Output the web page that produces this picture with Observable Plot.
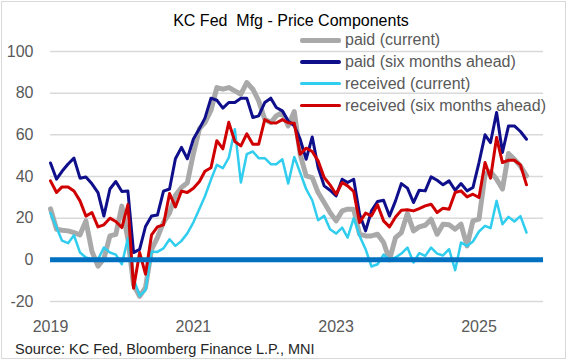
<!DOCTYPE html>
<html><head><meta charset="utf-8">
<script src="https://cdn.jsdelivr.net/npm/d3@7"></script>
<script src="https://cdn.jsdelivr.net/npm/@observablehq/plot@0.6"></script>
<style>
body{margin:0;background:#fff;}
#wrap{position:relative;width:571px;height:360px;font-family:"Liberation Sans",Arial,sans-serif;overflow:hidden;background:#fff;}
#chart{position:absolute;left:0;top:0;}
.border{position:absolute;left:1px;top:1px;width:565px;height:358px;border:1.5px solid #D9D9D9;box-sizing:border-box;pointer-events:none;}
#title{position:absolute;top:13px;left:291px;transform:translateX(-50%);font-size:16px;line-height:16px;color:#000;white-space:pre;}
#source{position:absolute;left:15px;top:342px;font-size:14.5px;line-height:14.5px;color:#262626;white-space:pre;}
.sw{position:absolute;left:300px;width:41px;border-radius:2px;}
.lt{position:absolute;left:345px;font-size:16px;line-height:16px;color:#595959;white-space:pre;}
</style></head><body>
<div id="wrap">
<div id="chart"></div>
<div class="border"></div>
<div id="title">KC Fed  Mfg - Price Components</div>
<div id="legend"></div>
<div id="source">Source: KC Fed, Bloomberg Finance L.P., MNI</div>
</div>
<script>
// Monthly data, Jan 2019 – Sep 2025
const seriesNames = ["paid (current)", "paid (six months ahead)", "received (current)", "received (six months ahead)"];
const paidCurrent = [24.5,14.7,14.2,13.9,13.1,12,18.7,4,-3,0.5,11.5,12.2,25.8,10,-12,-17.5,-13.3,5,10.7,18,22.5,31,34.7,37,51,63,65.9,71.8,82.7,81.9,82.7,81.1,79.5,85.1,81.9,76.3,67.5,65.9,69.1,70.7,64.3,71.2,50.7,40.3,39.5,32.3,27.5,22.7,18.7,23.5,24.3,24.3,12.3,11.5,11.5,12.3,8.3,0,10.7,13.1,22.2,13.9,15.8,16.6,19.5,12.3,17.1,16.8,14.7,17.1,6.7,18.7,19.5,41.1,42.4,38.7,34,51,48.3,45,40.3];
const paidSixMonths = [46.5,38.7,42.5,46,48.8,39.2,39.8,36.5,32.3,21,34,37.6,32.8,33,3.5,5,16,21,21.5,33,34,48.5,54,48.5,58,63,68,77.6,76.6,72.8,75.5,75.5,77.6,77.6,68.3,69.1,75.5,77.6,73.1,71.5,66.7,64.3,57.9,48.3,59,44.3,35.5,33.4,30.7,38.7,37.1,38.7,21.9,13.9,23.5,28,28.6,21,28.3,36.6,34.4,27.5,33.4,33.1,39.8,38.2,36,37.9,33.4,36.6,33.1,34.7,46.7,60,56.3,70.7,51.5,64.3,64.3,61.6,57.9];
const receivedCurrent = [22.5,15.5,9.2,8,11.8,3.5,1.1,0.2,0.2,5.9,3.5,2.5,-2.1,10.3,-9,-17.3,-14.5,4,3.8,5.5,9.9,6.7,9.1,12.7,18,24.5,30.5,38.5,45.6,44,49,62.7,37.1,50.7,52,48.8,48.8,45.9,45.9,48.3,36.6,49.4,41.9,33.9,28.6,19,21.1,14.7,12.6,15.5,10.7,20,11.5,5.1,-3.2,-2.1,2.5,0,1.1,3,5.9,-1.3,3.2,1.9,5.9,3,2.1,5.1,-5,8.3,6.7,8.8,13.6,16.3,15.2,28.3,17.1,20.6,18.4,21,13.1];
const receivedSixMonths = [37.9,32.3,35,35,33,28.3,21,22.7,15.8,16.8,20,18.4,15.5,26.5,-13.6,3.5,-6.9,12,15.8,16.8,31.8,25.4,33,32.3,34.4,37.6,42.5,44.2,57.2,53.3,66,56.8,54.7,60.5,55.5,55.5,67.3,65.8,65.7,67.3,65.8,65.6,50.7,53.6,52,47.5,39.5,36,31.5,37.1,35.5,32.8,17.9,22.4,21.1,26.4,18.7,15.8,20.6,23.8,24,23.5,24.6,25.9,26.7,22.7,24.8,24.3,32.3,33.1,30.2,31.5,29.9,46.7,39.2,58.7,46.7,47.8,47.8,45.6,36];
const xTickYears = [2019, 2021, 2023, 2025];
const yTicks = [-20, 0, 20, 40, 60, 80, 100];

const styles = [
  {color:"#A9A9A9", width:5},
  {color:"#0F0F8C", width:3},
  {color:"#30CDEE", width:2.5},
  {color:"#D00000", width:3}
];
const allValues = [paidCurrent, paidSixMonths, receivedCurrent, receivedSixMonths];
const rows = allValues.map((vals, s) => vals.map((v, i) => ({series: seriesNames[s], date: new Date(Date.UTC(2019, i, 1)), value: v})));

const chart = Plot.plot({
  width: 571, height: 360,
  marginLeft: 50, marginRight: 28, marginTop: 51, marginBottom: 59,
  style: {fontFamily: '"Liberation Sans", Arial, sans-serif', fontSize: "16px", color: "#595959", background: "transparent"},
  x: {type: "utc", domain: [new Date(Date.UTC(2019,0,1)), new Date(Date.UTC(2025,10,27))],
      ticks: xTickYears.map(y => new Date(Date.UTC(y,0,1))), tickFormat: d3.utcFormat("%Y"),
      tickSize: 0, tickPadding: 19, label: null},
  y: {domain: [-20, 100], ticks: yTicks, tickFormat: d => String(d), tickSize: 0, tickPadding: 17, label: null},
  marks: [
    Plot.ruleY(yTicks, {stroke: "#D9D9D9", strokeWidth: 1.5}),
    ...rows.map((r, s) => Plot.line(r, {x: "date", y: "value", stroke: styles[s].color, strokeWidth: styles[s].width, strokeLinejoin: "round", strokeLinecap: "round"})),
    Plot.ruleY([0], {stroke: "#0070C0", strokeWidth: 5})
  ]
});
document.getElementById("chart").appendChild(chart);

// legend
const legendRowsY = [40, 62, 83.5, 105.5];
const legend = document.getElementById("legend");
seriesNames.forEach((name, s) => {
  const sw = document.createElement("div");
  sw.className = "sw";
  const h = s === 0 ? 5 : 3.5;
  sw.style.top = (legendRowsY[s] - h/2) + "px";
  sw.style.height = h + "px";
  sw.style.background = styles[s].color;
  legend.appendChild(sw);
  const t = document.createElement("div");
  t.className = "lt";
  t.textContent = name;
  t.style.top = (legendRowsY[s] - 8) + "px";
  legend.appendChild(t);
});
</script>
</body></html>
